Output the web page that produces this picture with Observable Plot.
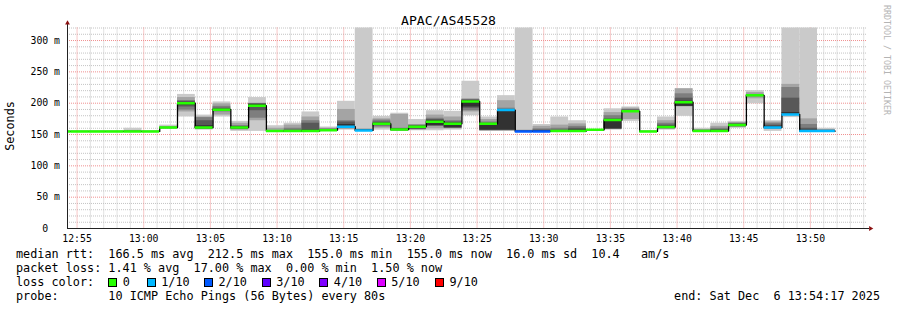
<!DOCTYPE html>
<html><head><meta charset="utf-8">
<script src="https://cdn.jsdelivr.net/npm/d3@7"></script>
<script src="https://cdn.jsdelivr.net/npm/@observablehq/plot@0.6"></script>
<style>
body{margin:0;background:#fff}
#wrap{position:relative;width:897px;height:310px;background:#fff;font-family:"DejaVu Sans Mono",monospace;color:#000;overflow:hidden}
#wrap svg{position:absolute;left:0;top:0}
.t{position:absolute;white-space:pre;line-height:1;font-size:11.8px}
.sq{position:absolute;width:9px;height:9px;box-sizing:border-box;border:1px solid #000}
</style></head><body><div id="wrap"></div>
<script>
// ---- data ----
const title = "APAC/AS45528";
const stepTimes = ["12:53:12","12:54:32","12:55:52","12:57:12","12:58:32","12:59:52","13:01:12","13:02:32","13:03:52","13:05:12","13:06:32","13:07:52","13:09:12","13:10:32","13:11:52","13:13:12","13:14:32","13:15:52","13:17:12","13:18:32","13:19:52","13:21:12","13:22:32","13:23:52","13:25:12","13:26:32","13:27:52","13:29:12","13:30:32","13:31:52","13:33:12","13:34:32","13:35:52","13:37:12","13:38:32","13:39:52","13:41:12","13:42:32","13:43:52","13:45:12","13:46:32","13:47:52","13:49:12","13:50:32","13:51:52"];
const medians = [155,155,155,155,155,155, 161,200,161,189.5,161,196, 155.5,155.5,155.5,157,162.5,156.5, 167,158,162.5,170.5,167,202.5, 167,189,155,155,155.5,155.5, 157.5,173,187,155,162,201.5, 155.5,155.5,165,212.5,161,182, 155.5,155.5];
const lossCount = [0,0,0,0,0,0, 0,0,0,0,0,0, 0,0,0,0,1,1, 0,0,0,0,0,0, 0,1,2,2,0,0, 0,0,0,0,0,0, 0,0,0,0,1,1, 1,1];
const pings = [
[155,155,155,155,155,155,155,155,155,155],
[155,155,155,155,155,155,155,155,155,155],
[155,155,155,155,155,155,155,155,155,155],
[155,155,155,155,155,155,155,155,155,155],
[155,155,155,155,155,155,155,155,156,160],
[155,155,155,155,155,155,155,155,155,155],
[159,160,160,161,161,161,161,162,162,165],
[178,186,189,194,197,201,203,204,209,214],
[157,158,159,160,160,164,172,177,178,181],
[178,181,186,188,189,190,192,195,199,202],
[155,157,158,160,160,162,163,164,168,171],
[155,172,176,188,194,198,199,199,200,209],
[155,155,155,155,155,155,155,155,160,164],
[155,155,155,155,155,155,157,160,165,168],
[155,155,155,155,155,157,168,172,178,186],
[155,156,157,157,157,158,158,159,160,162],
[157,158,160,162,163,166,170,172,190,203],
[155,155,156,156,156,157,157,158,159,340],
[157,160,162,164,165,168,170,173,175,179],
[155,156,157,157,158,158,159,160,182,184],
[156,157,158,158,160,163,164,165,166,174],
[156,159,163,164,164,172,174,176,181,188],
[157,159,160,160,161,168,170,172,178,187],
[180,186,188,192,194,204,205,206,207,235],
[155,156,156,157,157,165,168,170,174,178],
[155,156,156,157,157,188,189,192,204,212],
[155,155,155,155,155,155,156,156,157,340],
[155,155,155,155,155,156,157,159,163,166],
[155,155,155,155,155,155,157,160,165,178],
[155,155,155,156,157,158,160,163,167,172],
[155,155,156,156,157,157,157,158,158,158],
[157,158,158,159,159,172,175,180,185,191],
[171,174,186,187,187,188,189,190,192,194],
[155,155,155,155,155,155,155,155,155,155],
[157,158,159,160,161,163,165,168,172,178],
[179,194,195,195,195,203,208,215,223,223],
[155,155,155,155,155,156,156,157,158,160],
[155,155,155,155,155,156,158,160,163,168],
[160,161,162,163,164,166,167,168,169,171],
[199,207,210,211,211,213,213,214,217,220],
[155,159,160,161,161,163,165,168,170,172],
[177,180,182,183,183,185,208,225,230,340],
[155,155,155,155,156,157,160,166,175,340],
[155,155,155,155,155,155,156,157,158,160]
];
const yTicks = [0,50,100,150,200,250,300];
const xTickLabels = ["12:55","13:00","13:05","13:10","13:15","13:20","13:25","13:30","13:35","13:40","13:45","13:50"];
const windowStart = "12:54:17", windowEnd = "13:54:17";
const lossThresholds = [0,1,2,3,4,5,9];
const lossLabels = ["0","1/10","2/10","3/10","4/10","5/10","9/10"];
const lossColors = ["#26ff00","#00b8ff","#0059ff","#5e00ff","#7e00ff","#dd00ff","#ff0000"];
const smokeGrays = ["#cacaca","#a4a4a4","#7e7e7e","#585858","#323232"];
const statLines = [
 "median rtt:  166.5 ms avg  212.5 ms max  155.0 ms min  155.0 ms now  16.0 ms sd  10.4   am/s",
 "packet loss: 1.41 % avg  17.00 % max  0.00 % min  1.50 % now",
 "loss color:",
 "probe:       10 ICMP Echo Pings (56 Bytes) every 80s"
];
const endText = "end: Sat Dec  6 13:54:17 2025";
const watermark = "RRDTOOL / TOBI OETIKER";

// ---- build ----
const T = s => { const [h,m,sec] = s.split(":").map(Number); return new Date(Date.UTC(2025,11,6,h,m,sec||0)); };
const x0 = T(windowStart), x1 = T(windowEnd);
const steps = medians.map((m,i) => ({start: T(stepTimes[i]), end: T(stepTimes[i+1]), median: m, loss: lossCount[i], p: pings[i]}));
const lossColor = n => { let c = lossColors[0]; lossThresholds.forEach((t,i)=>{ if (n >= t) c = lossColors[i]; }); return c; };
const linePts = steps.map(d => ({t: d.start, v: d.median})).concat([{t: steps[steps.length-1].end, v: steps[steps.length-1].median}]);
const minuteTicks = d3.utcMinute.range(x0, x1).filter(d => d.getUTCMinutes() % 5 !== 0);
const majorX = xTickLabels.map(s => T(s));
const minorY = d3.range(10, 321, 10).filter(v => v % 50 !== 0);

const smokeMarks = smokeGrays.map((g,i) => Plot.rect(steps, {x1: "start", x2: "end", y1: d => d.p[i], y2: d => d.p[9-i], fill: g, clip: true}));

const chart = Plot.plot({
  width: 897, height: 310,
  marginLeft: 67, marginRight: 30, marginTop: 27.5, marginBottom: 82,
  x: {type: "utc", domain: [x0, x1], axis: null},
  y: {domain: [0, 320], axis: null},
  color: {type: "identity"},
  style: {background: "transparent", fontFamily: "'DejaVu Sans Mono', monospace", fontSize: "9.8px", color: "#000"},
  marks: [
    Plot.ruleX(minuteTicks, {stroke: "#c4c4c4", strokeDasharray: "1,1"}),
    Plot.ruleY(minorY, {stroke: "#c4c4c4", strokeDasharray: "1,1"}),
    Plot.ruleX(majorX, {stroke: "#f09090", strokeDasharray: "1,1"}),
    Plot.ruleY(yTicks.filter(v => v > 0), {stroke: "#f09090", strokeDasharray: "1,1"}),
    ...smokeMarks,
    Plot.line(linePts, {x: "t", y: "v", curve: "step-after", stroke: "#000", strokeWidth: 1.3, clip: true}),
    Plot.ruleY(steps, {y: "median", x1: "start", x2: "end", stroke: d => lossColor(d.loss), strokeWidth: 2.5, clip: true}),
    Plot.ruleX([x0], {stroke: "#222", insetTop: -6}),
    Plot.ruleY([0], {stroke: "#222", insetRight: -2}),
    Plot.dot([{x: x0, y: 320}], {x: "x", y: "y", dy: -5, symbol: "triangle", r: 1.8, fill: "#8b1010", stroke: "none"}),
    Plot.dot([{x: x1, y: 0}], {x: "x", y: "y", dx: 3, symbol: "triangle", rotate: 90, r: 1.8, fill: "#8b1010", stroke: "none"}),
    Plot.text(yTicks, {x: () => x0, y: d => d, text: d => d === 0 ? "0\u00a0\u00a0" : d + " m", textAnchor: "end", dx: -7.5, fill: "#000"}),
    Plot.text(majorX, {x: d => d, y: () => 0, text: (d,i) => xTickLabels[i], dy: 10, fill: "#000"})
  ]
});
const wrap = document.getElementById("wrap");
wrap.appendChild(chart);

function addText(txt, left, top, extra) {
  const el = document.createElement("div");
  el.className = "t"; el.textContent = txt;
  el.style.left = left + "px"; el.style.top = top + "px";
  if (extra) Object.assign(el.style, extra);
  wrap.appendChild(el); return el;
}
addText(title, 448.5, 13.5, {fontSize: "13.15px", transform: "translateX(-50%)"});
addText("Seconds", 11, 126, {transform: "translate(-50%,-50%) rotate(-90deg)"});
addText(watermark, 887, 60, {fontSize: "8.3px", color: "#b4b4b4", transform: "translate(-50%,-50%) rotate(90deg)"});
const tops = [249, 262.8, 276.8, 290.7];
statLines.forEach((s,i) => addText(s, 16, tops[i]));
addText(endText, 880, tops[3], {transform: "translateX(-100%)"});
const sqX = [108.3, 146.7, 204, 261.7, 319.3, 376.7, 435];
lossLabels.forEach((lab, i) => {
  const sq = document.createElement("div");
  sq.className = "sq"; sq.style.left = sqX[i] + "px"; sq.style.top = "278px"; sq.style.background = lossColors[i];
  wrap.appendChild(sq);
  addText(lab, sqX[i] + 14.5, tops[2]);
});
</script></body></html>
